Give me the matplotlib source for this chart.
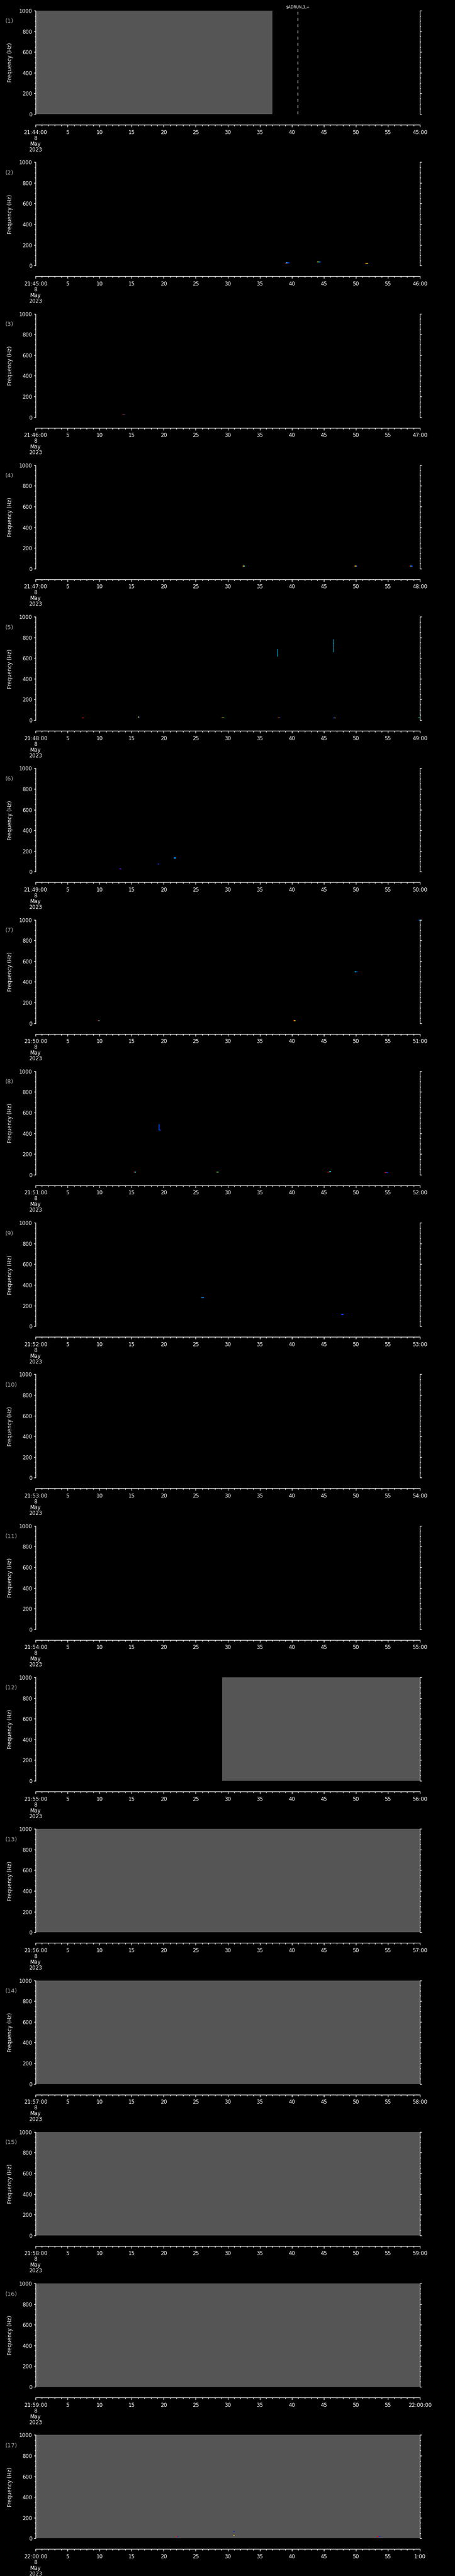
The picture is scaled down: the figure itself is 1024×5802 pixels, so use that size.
import matplotlib
matplotlib.use("Agg")  # headless plotting

import matplotlib.pyplot as plt
from matplotlib.ticker import MultipleLocator, FixedLocator, FixedFormatter

plt.rcParams['font.family'] = ['DejaVu Sans']

W, H = 1024, 5802
PERIOD = 341.27

start_labels = ['21:44:00', '21:45:00', '21:46:00', '21:47:00', '21:48:00', '21:49:00',
                '21:50:00', '21:51:00', '21:52:00', '21:53:00', '21:54:00', '21:55:00',
                '21:56:00', '21:57:00', '21:58:00', '21:59:00', '22:00:00']
end_labels = ['45:00', '46:00', '47:00', '48:00', '49:00', '50:00', '51:00', '52:00',
              '53:00', '54:00', '55:00', '56:00', '57:00', '58:00', '59:00', '22:00:00', '1:00']

# grey (no data) spans per panel, seconds
gray_panel = [1, 12, 13, 14, 15, 16, 17]
gray_t0 = [0.0, 29.1, 0.0, 0.0, 0.0, 0.0, 0.0]
gray_t1 = [37.0, 60.0, 60.0, 60.0, 60.0, 60.0, 60.0]

# spectrogram cells: panel, t0, t1 (s), f0, f1 (Hz), colour
blob_panel = [2, 2, 2, 2, 2, 2, 2, 2,
              3, 3, 3,
              4, 4, 4, 4, 4, 4, 4, 4, 4,
              5, 5, 5, 5, 5, 5, 5, 5, 5, 5, 5, 5, 5, 5, 5, 5, 5,
              6, 6, 6,
              7, 7, 7, 7, 7, 7, 7, 7,
              8, 8, 8, 8, 8, 8, 8, 8, 8, 8, 8,
              9, 9,
              17, 17, 17, 17, 17, 17]
blob_t0 = [39.0, 39.15, 39.35, 44.0, 44.2, 44.4, 51.5, 51.7,
           13.5, 13.65, 13.8,
           32.3, 32.45, 32.55, 49.8, 49.95, 50.05, 58.4, 58.55, 58.7,
           7.3, 16.0, 16.15, 29.0, 29.15, 29.3, 37.8, 37.95, 38.1, 46.5, 46.65, 59.7, 59.85,
           37.7, 46.45, 46.45, 46.5,
           13.1, 19.1, 21.6,
           9.7, 9.85, 40.2, 40.4, 49.8, 50.05, 59.7, 59.85,
           15.3, 15.5, 28.2, 28.4, 19.2, 19.2, 45.6, 45.85, 54.5, 54.75, 54.6,
           25.9, 47.7,
           21.9, 22.1, 30.9, 30.9, 53.3, 53.55]
blob_t1 = [39.15, 39.35, 39.6, 44.2, 44.4, 44.6, 51.7, 51.9,
           13.65, 13.8, 14.0,
           32.45, 32.55, 32.7, 49.95, 50.05, 50.2, 58.55, 58.7, 58.9,
           7.5, 16.15, 16.3, 29.15, 29.3, 29.5, 37.95, 38.1, 38.3, 46.65, 46.8, 59.85, 60.0,
           37.8, 46.55, 46.55, 46.55,
           13.4, 19.3, 21.9,
           9.85, 10.0, 40.4, 40.6, 50.05, 50.3, 59.85, 60.0,
           15.5, 15.7, 28.4, 28.6, 19.35, 19.6, 45.85, 46.1, 54.75, 55.0, 54.7,
           26.3, 48.1,
           22.1, 22.3, 31.1, 31.1, 53.55, 53.8]
blob_f0 = [18, 22, 22, 30, 30, 30, 20, 20,
           22, 22, 22,
           20, 20, 20, 20, 20, 20, 20, 20, 20,
           16, 25, 25, 20, 20, 20, 20, 20, 20, 16, 16, 20, 20,
           615, 657, 700, 740,
           23, 70, 128,
           18, 18, 18, 18, 492, 492, 993, 993,
           20, 20, 20, 20, 428, 428, 22, 24, 16, 16, 16,
           272, 108,
           16, 16, 62, 26, 16, 16]
blob_f1 = [28, 30, 30, 38, 38, 38, 27, 27,
           30, 30, 30,
           28, 28, 28, 28, 28, 28, 28, 28, 28,
           24, 33, 33, 28, 28, 28, 28, 28, 28, 24, 24, 28, 28,
           685, 780, 706, 746,
           31, 78, 140,
           27, 27, 27, 27, 500, 500, 1000, 1000,
           28, 28, 28, 28, 488, 434, 30, 34, 24, 24, 24,
           280, 122,
           24, 24, 72, 32, 24, 24]
blob_color = ['#ff0000', '#00e0ff', '#0030ff', '#ffff00', '#00e0ff', '#0030ff', '#ff8000', '#ffe000',
              '#ff0000', '#ff4000', '#0060ff',
              '#ff8000', '#ffff00', '#00e0ff', '#ff8000', '#ffff00', '#0040ff', '#ff0000', '#00e0ff', '#0030ff',
              '#ff0000', '#ffff00', '#0030ff', '#ff2000', '#ffff00', '#00ff80', '#ff2000', '#ff9000', '#0030ff',
              '#0050ff', '#ff9000', '#00ffd0', '#00ff60',
              '#00d0ff', '#00d0ff', '#ff3000', '#00ffff',
              '#6000ff', '#0030ff', '#0090ff',
              '#ff0000', '#00e0ff', '#ff0000', '#ffff00', '#00e0ff', '#0040ff', '#0030ff', '#00e0ff',
              '#ff0000', '#00e0ff', '#ff8000', '#00ff80', '#0050ff', '#0050ff', '#ff0000', '#00e0ff',
              '#ff0000', '#0030ff', '#ff0000',
              '#0080ff', '#0040ff',
              '#ff0000', '#0030ff', '#0030ff', '#ffd000', '#ff0000', '#0030ff']

fig = plt.figure(figsize=(W / 100, H / 100), dpi=100, facecolor='black')

for i in range(17):
    p = i + 1
    top = 24 + i * PERIOD

    ax = fig.add_axes([80 / W, 1 - (top + 233) / H, 865 / W, 233 / H])
    ax.set_facecolor('black')
    ax.set_xlim(0, 60)
    ax.set_ylim(0, 1000)
    for s in ['top', 'bottom']:
        ax.spines[s].set_visible(False)
    for s in ['left', 'right']:
        ax.spines[s].set_color('white')
        ax.spines[s].set_linewidth(1.0)
    ax.set_xticks([])
    ax.yaxis.set_ticks_position('both')
    ax.set_yticks(range(0, 1001, 200))
    ax.yaxis.set_minor_locator(MultipleLocator(50))
    ax.tick_params(axis='y', which='major', direction='out', length=2.6, width=1,
                   colors='white', labelsize=8.5, pad=3, right=True, labelright=False)
    ax.tick_params(axis='y', which='minor', direction='out', length=1.6, width=1,
                   colors='white', right=True)

    for g, a, b in zip(gray_panel, gray_t0, gray_t1):
        if g == p:
            ax.bar(a, 1000, width=b - a, bottom=0, align='edge', color='#555555', linewidth=0)

    for bp, a, b, f0, f1, c in zip(blob_panel, blob_t0, blob_t1, blob_f0, blob_f1, blob_color):
        if bp == p:
            ax.bar(a, f1 - f0, width=b - a, bottom=f0, align='edge', color=c, linewidth=0)

    fig.text(23 / W, 1 - (top + 117) / H, 'Frequency (Hz)', rotation=90, color='white',
             fontsize=8.5, ha='center', va='center')
    fig.text(12 / W, 1 - (top + 24) / H, '(%d)' % p, color='#b0b0b0', fontsize=9.5,
             ha='left', va='center')

    # time axis below the panel
    tax = fig.add_axes([80 / W, 1 - (top + 257) / H, 865 / W, 0.5 / H])
    tax.patch.set_visible(False)
    for s in ['top', 'left', 'right']:
        tax.spines[s].set_visible(False)
    tax.spines['bottom'].set_color('white')
    tax.spines['bottom'].set_linewidth(1.0)
    tax.set_xlim(0, 60)
    tax.set_yticks([])
    ticks = list(range(0, 61, 5))
    labels = [start_labels[i] + '\n8\nMay\n2023'] + [str(t) for t in ticks[1:-1]] + [end_labels[i]]
    tax.xaxis.set_major_locator(FixedLocator(ticks))
    tax.xaxis.set_major_formatter(FixedFormatter(labels))
    tax.xaxis.set_minor_locator(MultipleLocator(1))
    tax.tick_params(axis='x', which='major', direction='out', length=3.6, width=1,
                    colors='white', labelsize=8.5, pad=4)
    tax.tick_params(axis='x', which='minor', direction='out', length=2.0, width=1, colors='white')
    for lab in tax.get_xticklabels():
        lab.set_linespacing(1.0)
        lab.set_multialignment('center')

    if p == 1:
        ax.axvline(40.9, ymin=0, ymax=0.99, color='white', lw=1, dashes=(4.8, 5.3))
        fig.text(643 / W, 1 - 16 / H, '$ADRUN,3,+', color='white', fontsize=6,
                 ha='left', va='center')

fig.savefig('out.png', dpi=100, facecolor='black')
plt.close(fig)
